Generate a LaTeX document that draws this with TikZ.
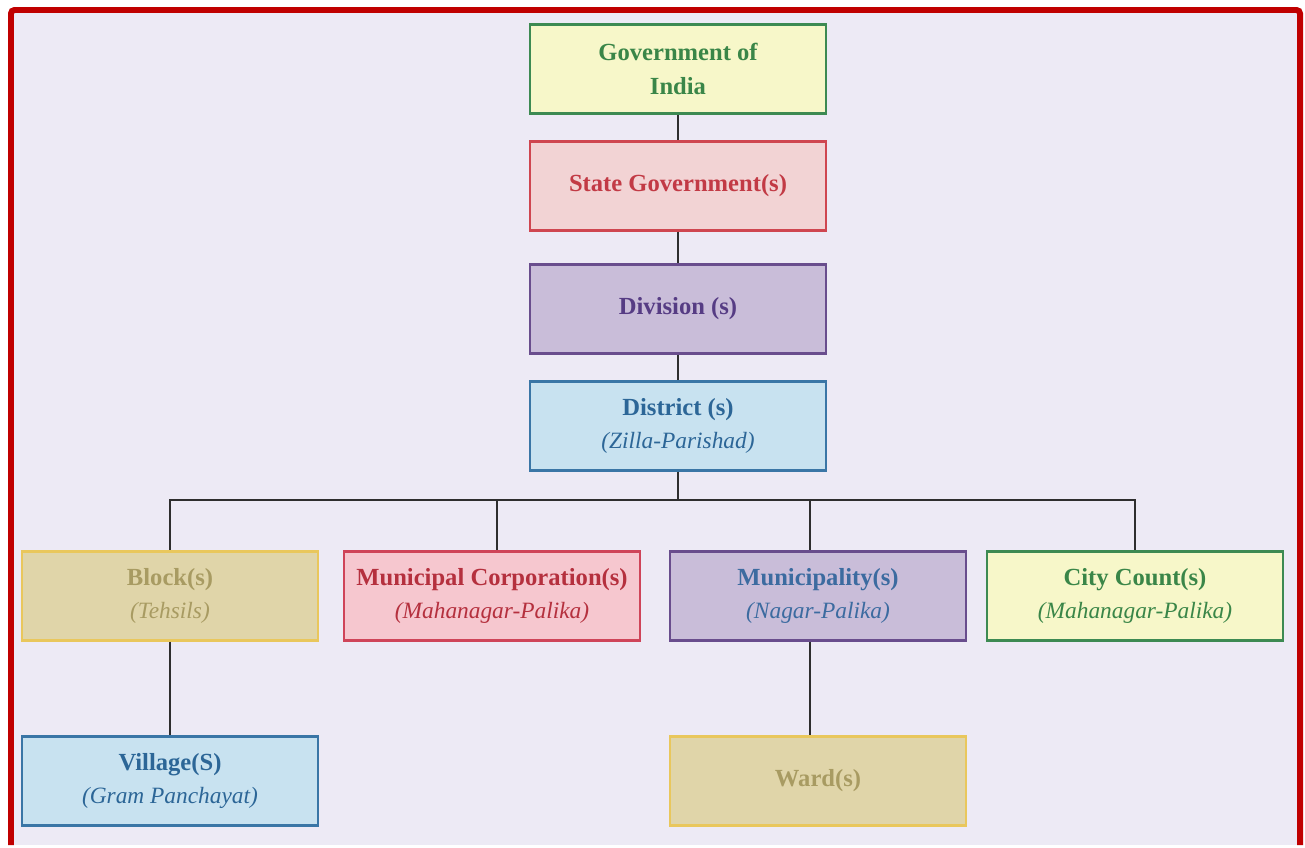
\documentclass[tikz,border=0pt]{standalone}
\usepackage{fontspec}
\setmainfont{Liberation Serif}

\definecolor{pagebg}{HTML}{EDEAF5}
\definecolor{framered}{HTML}{C00000}
\definecolor{linegray}{HTML}{2E2E2E}
\definecolor{govfill}{HTML}{F7F7C9}
\definecolor{govline}{HTML}{3D8A52}
\definecolor{govtext}{HTML}{3A8648}
\definecolor{statefill}{HTML}{F2D3D4}
\definecolor{stateline}{HTML}{CF4650}
\definecolor{statetext}{HTML}{C23A45}
\definecolor{divfill}{HTML}{C9BDD9}
\definecolor{divline}{HTML}{694D8D}
\definecolor{divtext}{HTML}{563C84}
\definecolor{distfill}{HTML}{C8E2F0}
\definecolor{distline}{HTML}{3A76A6}
\definecolor{disttext}{HTML}{2C6697}
\definecolor{blockfill}{HTML}{E0D5A9}
\definecolor{blockline}{HTML}{E9C75C}
\definecolor{blocktext}{HTML}{A89B62}
\definecolor{corpfill}{HTML}{F6C7CF}
\definecolor{corpline}{HTML}{CF4459}
\definecolor{corptext}{HTML}{B5303E}
\definecolor{munitext}{HTML}{3C6BA0}

\newcommand{\subname}[1]{{\fontsize{13.3}{19}\selectfont\normalfont\itshape #1}}

\begin{document}
\begin{tikzpicture}[x=0.02cm,y=-0.02cm,
    govt/.style={fill=govfill,draw=govline,text=govtext},
    state/.style={fill=statefill,draw=stateline,text=statetext},
    divn/.style={fill=divfill,draw=divline,text=divtext},
    dist/.style={fill=distfill,draw=distline,text=disttext},
    blk/.style={fill=blockfill,draw=blockline,text=blocktext},
    corp/.style={fill=corpfill,draw=corpline,text=corptext},
    conn/.style={draw=linegray,line width=1.1pt}]

  % page and red frame
  \fill[white] (0,0) rectangle (1305,845);
  \fill[pagebg] (11,10) rectangle (1300,845);
  \draw[framered,line width=3.4pt,rounded corners=2pt] (11,845) -- (11,10) -- (1300,10) -- (1300,845);

  \begin{scope}[every node/.style={rectangle,draw,line width=1.3pt,
      minimum width=5.92cm,minimum height=1.78cm,align=center,
      font=\fontsize{14}{19}\selectfont\bfseries}]
    \node[govt]  (goi)   at (678,69)   {Government of\\India};
    \node[state] (state) at (678,186)  {State Government(s)};
    \node[divn]  (div)   at (678,309)  {Division (s)};
    \node[dist]  (dist)  at (678,426)  {District (s)\\\subname{(Zilla-Parishad)}};
    \node[blk]   (block) at (170,596)  {Block(s)\\\subname{(Tehsils)}};
    \node[corp]  (mcorp) at (492,596)  {Municipal Corporation(s)\\\subname{(Mahanagar-Palika)}};
    \node[divn,text=munitext] (muni) at (818,596) {Municipality(s)\\\subname{(Nagar-Palika)}};
    \node[govt]  (city)  at (1135,596) {City Count(s)\\\subname{(Mahanagar-Palika)}};
    \node[dist]  (vill)  at (170,781)  {Village(S)\\\subname{(Gram Panchayat)}};
    \node[blk]   (ward)  at (818,781)  {Ward(s)};
  \end{scope}

  \coordinate (bus) at (678,500);

  \begin{scope}[every edge/.style={conn}]
    \path (goi)   edge (state);
    \path (state) edge (div);
    \path (div)   edge (dist);
    \path (dist)  edge (bus);
    \path (block) edge (vill);
    \path ([xshift=-0.16cm]muni.south) edge ([xshift=-0.16cm]ward.north);
  \end{scope}

  \draw[conn] (bus) -| (block);
  \draw[conn] (bus) -| ([xshift=0.1cm]mcorp.north);
  \draw[conn] (bus) -| ([xshift=-0.16cm]muni.north);
  \draw[conn] (bus) -| (city);

\end{tikzpicture}
\end{document}
